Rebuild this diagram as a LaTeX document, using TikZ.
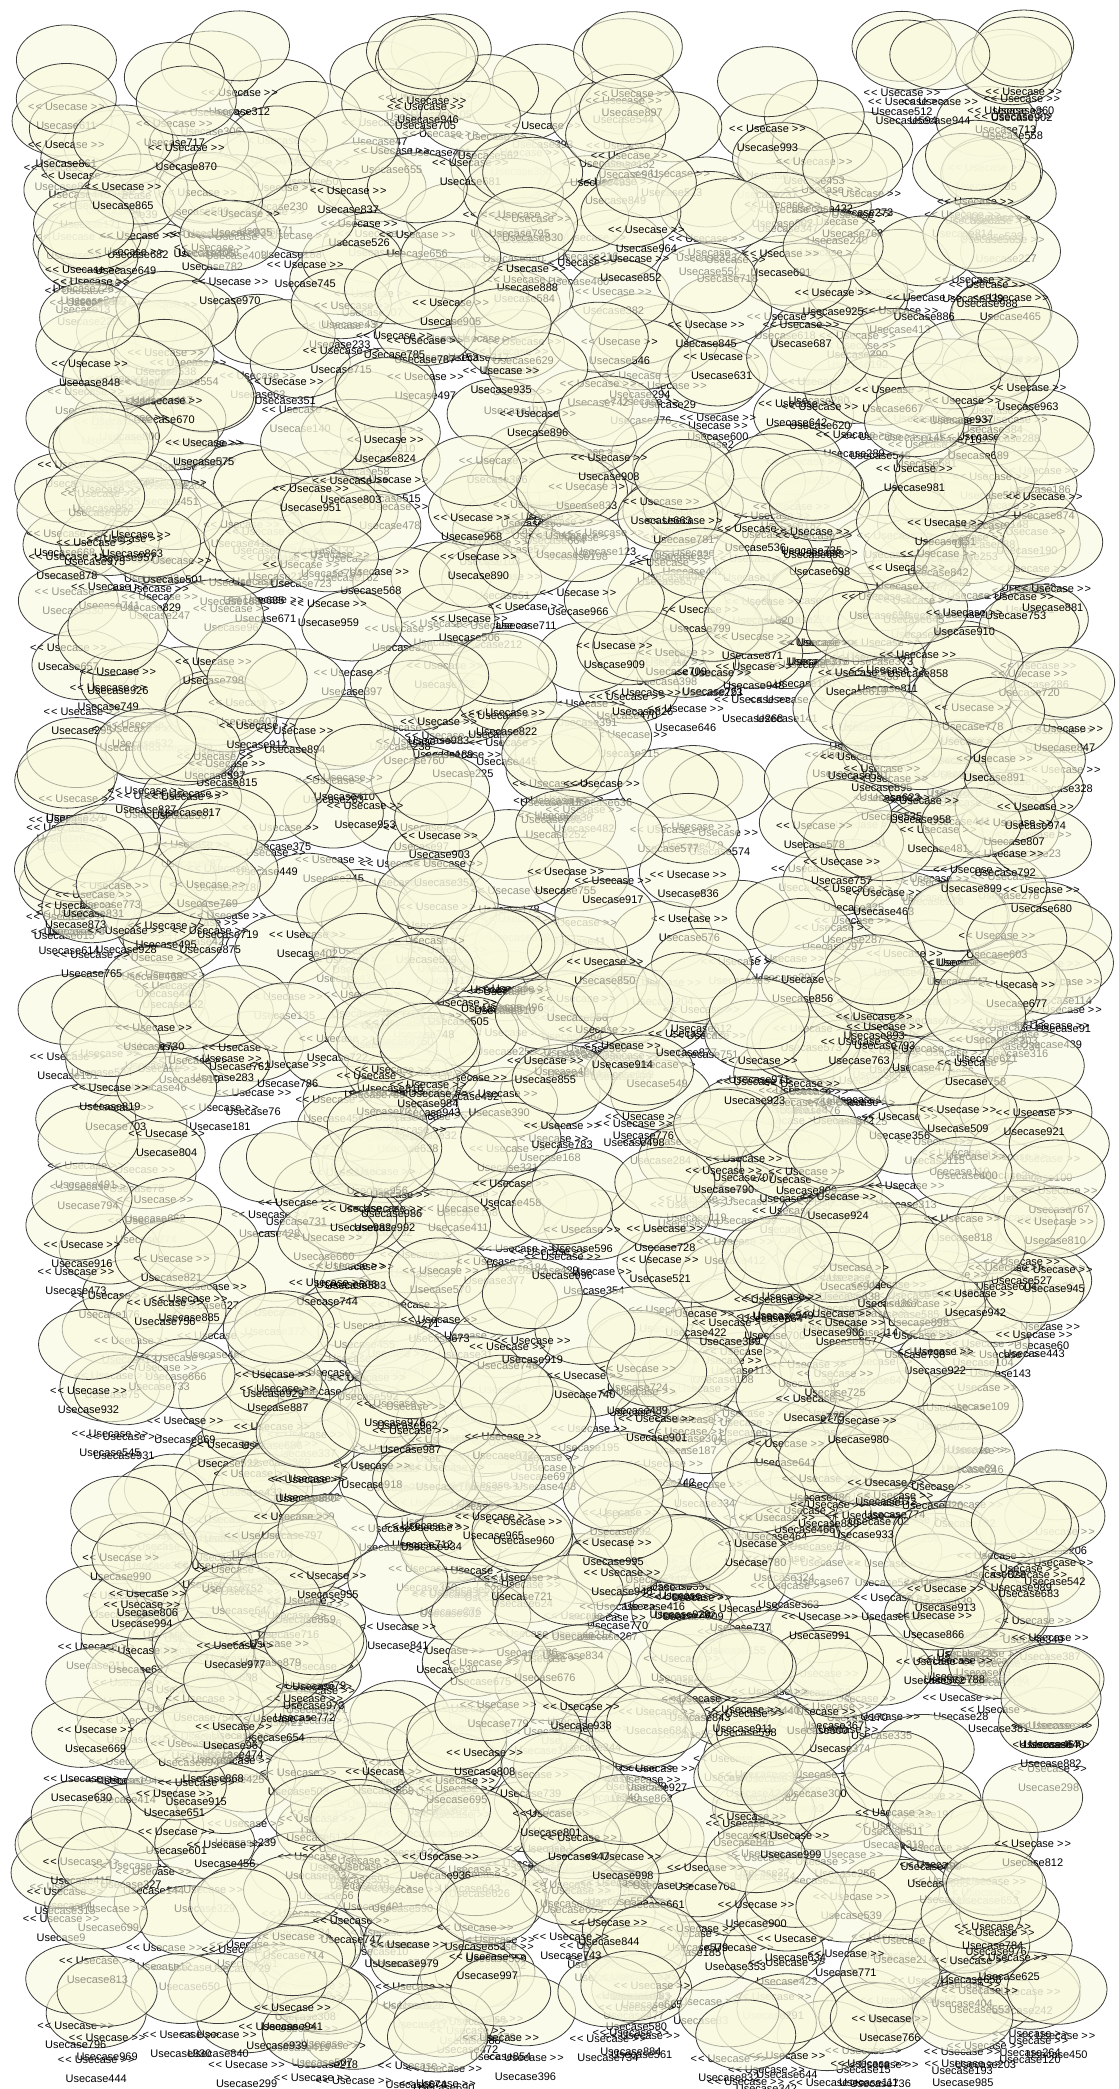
\documentclass[tikz,border=0pt]{standalone}
\usepackage{fontspec}
\newfontfamily\ucfont{Liberation Sans}
\usetikzlibrary{shapes.geometric}
\definecolor{ucfill}{RGB}{249,249,222}
\definecolor{ucline}{RGB}{60,60,60}
\tikzset{ucase/.style={ellipse, draw=ucline, fill=ucfill, fill opacity=0.6, line width=0.8pt, minimum width=100pt, minimum height=70pt, inner sep=0pt},
  uclabel/.style={anchor=base, inner sep=0pt, font=\ucfont\fontsize{11}{13}\selectfont, text=black}}

\begin{document}
\begin{tikzpicture}[x=1pt,y=-1pt]
  \useasboundingbox (0,0) rectangle (1119,2089);
  \pgfmathsetseed{4711}
  \foreach \i in {0,...,999}{
    \pgfmathsetmacro\ux{58+1007*rnd}
    \pgfmathsetmacro\uy{45+1992*rnd}
    \node[ucase] (u\i) at (\ux,\uy) {};
    \node[uclabel] (s\i) at ([yshift=-15pt]u\i.south) {<\kern1pt< Usecase >\kern1pt>};
    \node[uclabel] (n\i) at ([yshift=-19pt]s\i.base) {Usecase\i};
  }
\end{tikzpicture}
\end{document}
